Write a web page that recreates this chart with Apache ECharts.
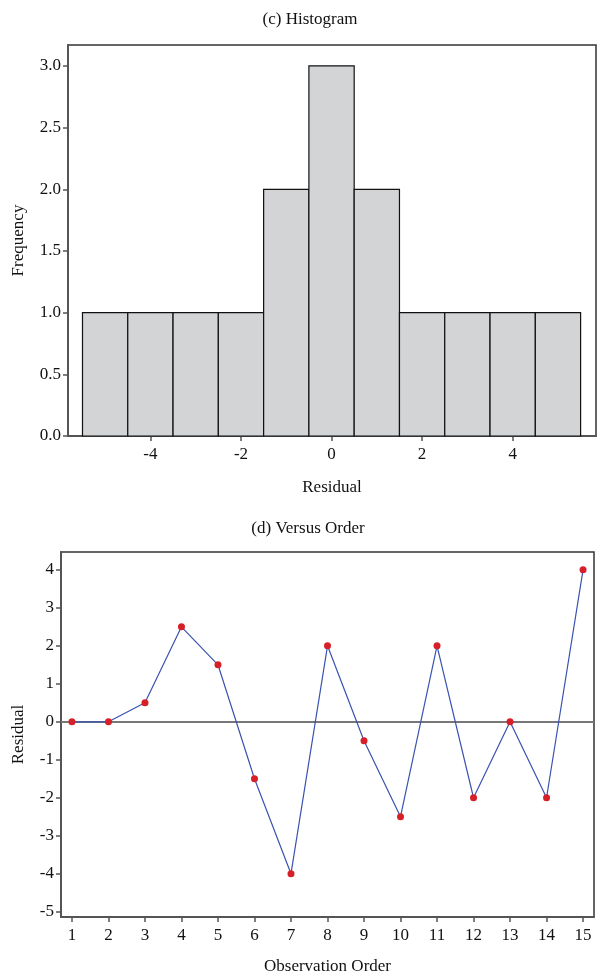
<!DOCTYPE html>
<html><head><meta charset="utf-8">
<script src="https://cdn.jsdelivr.net/npm/echarts@6/dist/echarts.min.js"></script>
<style>html,body{margin:0;padding:0;background:#fff}#c{width:597px;height:976px}</style>
</head><body><div id="c"></div>
<script>
// Histogram data
const binCenters = [-5, -4, -3, -2, -1, 0, 1, 2, 3, 4, 5];
const binCounts  = [1, 1, 1, 1, 2, 3, 2, 1, 1, 1, 1];
const binWidth = 1;
const histXTicks = [-4, -2, 0, 2, 4];
const histYTicks = [0, 0.5, 1, 1.5, 2, 2.5, 3];
// Versus order data
const order = [1,2,3,4,5,6,7,8,9,10,11,12,13,14,15];
const residuals = [0, 0, 0.5, 2.5, 1.5, -1.5, -4, 2, -0.5, -2.5, 2, -2, 0, -2, 4];
const orderYTicks = [-5,-4,-3,-2,-1,0,1,2,3,4];

const FONT = '"Liberation Serif", "Times New Roman", serif';
const histData = binCenters.map((c, i) => [c - binWidth/2, c + binWidth/2, binCounts[i]]);

const axisLine = {show: true, onZero: false, lineStyle: {color: '#555', width: 2}};
const axisTick = {show: true, length: 5, lineStyle: {color: '#555', width: 1.5}};
const lab = {color: '#111', fontFamily: FONT, fontSize: 17};
const nameStyle = {color: '#111', fontFamily: FONT, fontSize: 17};

const chart = echarts.init(document.getElementById('c'), null, {renderer: 'canvas'});
chart.setOption({
  animation: false,
  backgroundColor: '#fff',
  graphic: [
    {type: 'text', x: 310, y: 20, style: {text: '(c) Histogram', font: '17px ' + FONT, fill: '#111', textAlign: 'center', textVerticalAlign: 'middle'}},
    {type: 'text', x: 308, y: 529, style: {text: '(d) Versus Order', font: '17px ' + FONT, fill: '#111', textAlign: 'center', textVerticalAlign: 'middle'}}
  ],
  grid: [
    {left: 68, top: 45, width: 528, height: 391, show: true, borderColor: '#333', borderWidth: 1.5, backgroundColor: 'transparent'},
    {left: 61, top: 552, width: 533, height: 365, show: true, borderColor: '#333', borderWidth: 1.5, backgroundColor: 'transparent'}
  ],
  xAxis: [
    {type: 'value', gridIndex: 0, min: -5.82, max: 5.84, axisLine, axisTick: Object.assign({customValues: histXTicks}, axisTick),
     axisLabel: Object.assign({customValues: histXTicks, margin: 10}, lab), splitLine: {show: false},
     name: 'Residual', nameLocation: 'middle', nameGap: 43, nameTextStyle: nameStyle},
    {type: 'value', gridIndex: 1, min: 0.7, max: 15.3, axisLine, axisTick: Object.assign({customValues: order}, axisTick),
     axisLabel: Object.assign({customValues: order, margin: 10}, lab), splitLine: {show: false},
     name: 'Observation Order', nameLocation: 'middle', nameGap: 41, nameTextStyle: nameStyle}
  ],
  yAxis: [
    {type: 'value', gridIndex: 0, min: 0, max: 3.17, axisLine, axisTick: Object.assign({customValues: histYTicks}, axisTick),
     axisLabel: Object.assign({customValues: histYTicks, margin: 7, formatter: v => v.toFixed(1)}, lab), splitLine: {show: false},
     name: 'Frequency', nameLocation: 'middle', nameGap: 41, nameTextStyle: nameStyle},
    {type: 'value', gridIndex: 1, min: -5.14, max: 4.47, axisLine, axisTick: Object.assign({customValues: orderYTicks}, axisTick),
     axisLabel: Object.assign({customValues: orderYTicks, margin: 7}, lab), splitLine: {show: false},
     name: 'Residual', nameLocation: 'middle', nameGap: 34, nameTextStyle: nameStyle}
  ],
  series: [
    {type: 'custom', xAxisIndex: 0, yAxisIndex: 0, data: histData,
     renderItem: function (params, api) {
       const p0 = api.coord([api.value(0), 0]);
       const p1 = api.coord([api.value(1), api.value(2)]);
       return {type: 'rect', shape: {x: p0[0], y: p1[1], width: p1[0] - p0[0], height: p0[1] - p1[1]},
               style: {fill: '#d3d4d6', stroke: '#111', lineWidth: 1.2}};
     }},
    {type: 'line', xAxisIndex: 1, yAxisIndex: 1, data: order.map((o, i) => [o, residuals[i]]),
     symbol: 'circle', symbolSize: 7, lineStyle: {color: '#3a52b0', width: 1.2},
     itemStyle: {color: '#d71f28'},
     markLine: {silent: true, symbol: 'none', label: {show: false}, lineStyle: {color: '#777', width: 1.8, type: 'solid'},
                data: [{yAxis: 0}], z: 1}}
  ]
});
</script></body></html>
